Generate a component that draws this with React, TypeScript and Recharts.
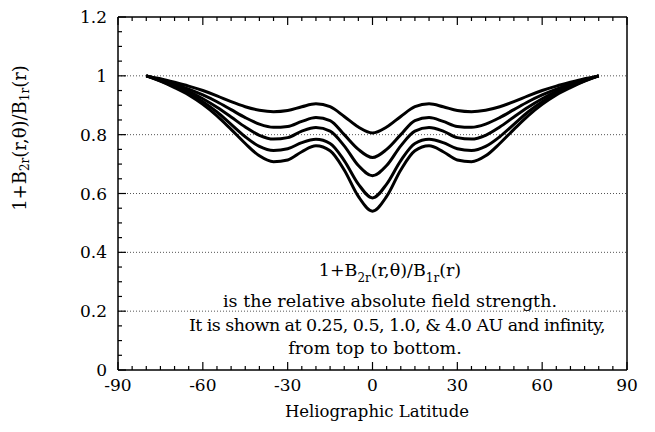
import React from 'react';
import { LineChart, Line, XAxis, YAxis, ReferenceLine, Label } from 'recharts';

// Heliographic latitude (degrees)
const latitudes = [-80, -75, -70, -65, -60, -55, -50, -45, -40, -35, -30, -25, -20, -15, -10, -5, 0, 5, 10, 15, 20, 25, 30, 35, 40, 45, 50, 55, 60, 65, 70, 75, 80];

// 1+B2r/B1r at 0.25 AU
const au025 = [1.0, 0.99, 0.978, 0.965, 0.95, 0.932, 0.912, 0.895, 0.883, 0.878, 0.882, 0.895, 0.905, 0.895, 0.862, 0.826, 0.806, 0.826, 0.862, 0.895, 0.905, 0.895, 0.882, 0.878, 0.883, 0.895, 0.912, 0.932, 0.95, 0.965, 0.978, 0.99, 1.0];
// 0.5 AU
const au05 = [1.0, 0.987, 0.972, 0.955, 0.935, 0.912, 0.885, 0.858, 0.836, 0.825, 0.828, 0.845, 0.858, 0.848, 0.8, 0.75, 0.722, 0.75, 0.8, 0.848, 0.858, 0.845, 0.828, 0.825, 0.836, 0.858, 0.885, 0.912, 0.935, 0.955, 0.972, 0.987, 1.0];
// 1.0 AU
const au10 = [1.0, 0.985, 0.967, 0.947, 0.922, 0.893, 0.86, 0.826, 0.798, 0.785, 0.79, 0.812, 0.824, 0.812, 0.762, 0.695, 0.66, 0.695, 0.762, 0.812, 0.824, 0.812, 0.79, 0.785, 0.798, 0.826, 0.86, 0.893, 0.922, 0.947, 0.967, 0.985, 1.0];
// 4.0 AU
const au40 = [1.0, 0.983, 0.963, 0.94, 0.912, 0.877, 0.835, 0.793, 0.76, 0.746, 0.752, 0.773, 0.784, 0.77, 0.712, 0.632, 0.585, 0.632, 0.712, 0.77, 0.784, 0.773, 0.752, 0.746, 0.76, 0.793, 0.835, 0.877, 0.912, 0.94, 0.963, 0.983, 1.0];
// infinity
const auInf = [1.0, 0.982, 0.96, 0.935, 0.903, 0.864, 0.818, 0.77, 0.728, 0.708, 0.714, 0.742, 0.762, 0.745, 0.68, 0.59, 0.54, 0.59, 0.68, 0.745, 0.762, 0.742, 0.714, 0.708, 0.728, 0.77, 0.818, 0.864, 0.903, 0.935, 0.96, 0.982, 1.0];

const xAllTicks = [-90, -85, -80, -75, -70, -65, -60, -55, -50, -45, -40, -35, -30, -25, -20, -15, -10, -5, 0, 5, 10, 15, 20, 25, 30, 35, 40, 45, 50, 55, 60, 65, 70, 75, 80, 85, 90];
const xMajorTicks = [-90, -60, -30, 0, 30, 60, 90];
const xTickLabels = ['-90', '-60', '-30', '0', '30', '60', '90'];

const yAllTicks = [0, 0.05, 0.1, 0.15, 0.2, 0.25, 0.3, 0.35, 0.4, 0.45, 0.5, 0.55, 0.6, 0.65, 0.7, 0.75, 0.8, 0.85, 0.9, 0.95, 1.0, 1.05, 1.1, 1.15, 1.2];
const yMajorTicks = [0, 0.2, 0.4, 0.6, 0.8, 1.0, 1.2];
const yTickLabels = ['0', '0.2', '0.4', '0.6', '0.8', '1', '1.2'];

const gridValues = [0.2, 0.4, 0.6, 0.8, 1.0];

const data = latitudes.map((lat, i) => ({
  lat,
  c1: au025[i],
  c2: au05[i],
  c3: au10[i],
  c4: au40[i],
  c5: auInf[i],
}));

const FONT = '"DejaVu Serif", serif';

const findMajor = (arr: number[], v: number) => arr.findIndex((m) => Math.abs(m - v) < 1e-9);

const BottomTick = (props: any) => {
  const { x, y, payload } = props;
  const idx = findMajor(xMajorTicks, payload.value);
  const major = idx >= 0;
  return (
    <g>
      <line x1={x} x2={x} y1={y} y2={y - (major ? 8 : 4)} stroke="#000" strokeWidth={1.2} />
      {major && (
        <text x={x} y={y + 21} textAnchor="middle" fontFamily={FONT} fontSize={17} fill="#000">
          {xTickLabels[idx]}
        </text>
      )}
    </g>
  );
};

const TopTick = (props: any) => {
  const { x, y, payload } = props;
  const major = findMajor(xMajorTicks, payload.value) >= 0;
  return <line x1={x} x2={x} y1={y} y2={y + (major ? 8 : 4)} stroke="#000" strokeWidth={1.2} />;
};

const LeftTick = (props: any) => {
  const { x, y, payload } = props;
  const idx = findMajor(yMajorTicks, payload.value);
  const major = idx >= 0;
  return (
    <g>
      <line x1={x} x2={x + (major ? 8 : 4)} y1={y} y2={y} stroke="#000" strokeWidth={1.2} />
      {major && (
        <text x={x - 11} y={y} dy="0.36em" textAnchor="end" fontFamily={FONT} fontSize={17} fill="#000">
          {yTickLabels[idx]}
        </text>
      )}
    </g>
  );
};

const RightTick = (props: any) => {
  const { x, y, payload } = props;
  const major = findMajor(yMajorTicks, payload.value) >= 0;
  return <line x1={x} x2={x - (major ? 8 : 4)} y1={y} y2={y} stroke="#000" strokeWidth={1.2} />;
};

const YLabel = () => {
  const cx = 11;
  const cy = 130;
  return (
    <text
      x={cx}
      y={cy}
      transform={`rotate(-90, ${cx}, ${cy})`}
      textAnchor="middle"
      dominantBaseline="central"
      fontFamily={FONT}
      fontSize={18}
      fill="#000"
    >
      <tspan>1+B</tspan>
      <tspan fontSize={12} dy={6}>2r</tspan>
      <tspan dy={-6}>(r,θ)/B</tspan>
      <tspan fontSize={12} dy={6}>1r</tspan>
      <tspan dy={-6}>(r)</tspan>
    </text>
  );
};

const XLabel = (props: any) => {
  const { viewBox } = props;
  const cx = 369;
  return (
    <text x={cx} y={viewBox.y + 47} textAnchor="middle" fontFamily={FONT} fontSize={16.5} fill="#000">
      Heliographic Latitude
    </text>
  );
};

const axisLine = { stroke: '#000', strokeWidth: 1.5 };

const lineStyle: React.CSSProperties = {
  position: 'absolute',
  width: 500,
  height: 24,
  lineHeight: '24px',
  textAlign: 'center',
  fontFamily: FONT,
  fontSize: 17.5,
  color: '#000',
  whiteSpace: 'nowrap',
};

const subStyle: React.CSSProperties = {
  fontSize: 12,
  position: 'relative',
  top: 6,
};

export default function App() {
  const series = ['c1', 'c2', 'c3', 'c4', 'c5'];
  return (
    <div style={{ position: 'relative', width: 647, height: 424 }}>
      <LineChart width={647} height={424} data={data} margin={{ top: 5, right: 24, bottom: 7, left: 50 }}>
        <XAxis
          xAxisId="b"
          dataKey="lat"
          type="number"
          domain={[-90, 90]}
          ticks={xAllTicks}
          interval={0}
          tickSize={0}
          tickMargin={0}
          tickLine={false}
          tick={<BottomTick />}
          height={55}
          axisLine={axisLine}
        >
          <Label content={<XLabel />} />
        </XAxis>
        <XAxis
          xAxisId="t"
          orientation="top"
          dataKey="lat"
          type="number"
          domain={[-90, 90]}
          ticks={xAllTicks}
          interval={0}
          tickSize={0}
          tickMargin={0}
          tickLine={false}
          tick={<TopTick />}
          height={4}
          axisLine={axisLine}
        />
        <YAxis
          yAxisId="l"
          type="number"
          domain={[0, 1.2]}
          ticks={yAllTicks}
          interval={0}
          tickSize={0}
          tickMargin={0}
          tickLine={false}
          tick={<LeftTick />}
          width={60}
          axisLine={axisLine}
        >
          <Label content={<YLabel />} />
        </YAxis>
        <YAxis
          yAxisId="r"
          orientation="right"
          type="number"
          domain={[0, 1.2]}
          ticks={yAllTicks}
          interval={0}
          tickSize={0}
          tickMargin={0}
          tickLine={false}
          tick={<RightTick />}
          width={4}
          axisLine={axisLine}
        />
        {gridValues.map((v) => (
          <ReferenceLine
            key={v}
            xAxisId="b"
            yAxisId="l"
            y={v}
            stroke="#555"
            strokeWidth={1}
            strokeDasharray="1 2"
          />
        ))}
        {series.map((k) => (
          <Line
            key={k}
            xAxisId="b"
            yAxisId="l"
            dataKey={k}
            type="monotone"
            stroke="#000"
            strokeWidth={3}
            dot={false}
            isAnimationActive={false}
          />
        ))}
      </LineChart>
      <div style={{ ...lineStyle, left: 132, top: 250 }}>
        1+B<span style={subStyle}>2r</span>(r,θ)/B<span style={subStyle}>1r</span>(r)
      </div>
      <div style={{ ...lineStyle, left: 132, top: 281 }}>is the relative absolute field strength.</div>
      <div style={{ ...lineStyle, left: 139, top: 305, letterSpacing: -0.55 }}>
        It is shown at 0.25, 0.5, 1.0, &amp; 4.0 AU and infinity,
      </div>
      <div style={{ ...lineStyle, left: 117, top: 328 }}>from top to bottom.</div>
    </div>
  );
}
